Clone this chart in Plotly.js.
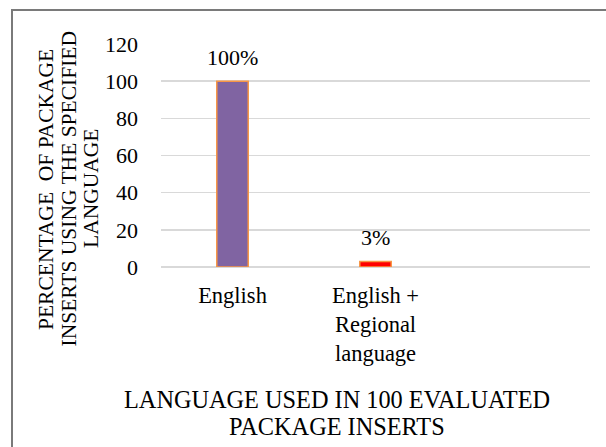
<!DOCTYPE html>
<html>
<head>
<meta charset="utf-8">
<script src="https://cdn.plot.ly/plotly-3.0.1.min.js"></script>
<style>
  html, body { margin: 0; padding: 0; background: #fff; }
  #wrap { position: relative; width: 606px; height: 447px; overflow: hidden; }
  #chart { width: 606px; height: 447px; }
  #frame { position: absolute; left: 11px; top: 9px; width: 620px; height: 470px;
           border: 2px solid #7a7a7a; pointer-events: none; box-sizing: border-box; }
</style>
</head>
<body>
<div id="wrap">
  <div id="chart"></div>
  <div id="frame"></div>
</div>
<script>
// Data
const categories = ['English', 'English +<br>Regional<br>language', ' '];
const values = [100, 3, null];
const barColors = ['#8064A2', '#FF0000', '#8064A2'];
const yTicks = [0, 20, 40, 60, 80, 100, 120];
const yTitleLines = ['PERCENTAGE  OF PACKAGE', 'INSERTS USING THE SPECIFIED', 'LANGUAGE'];
const xTitleLines = ['LANGUAGE USED IN 100 EVALUATED', 'PACKAGE INSERTS'];

const font = "'Liberation Serif', 'Times New Roman', serif";

// plot area geometry (pixels)
const M = { l: 161, r: 16, t: 44, b: 180 };
const W = 606, H = 447;
const pw = W - M.l - M.r, ph = H - M.t - M.b;
const px2paperX = px => (px - M.l) / pw;
const py2paperY = py => (H - M.b - py) / ph;

const trace = {
  type: 'bar',
  x: categories,
  y: values,
  width: 0.22,
  marker: { color: barColors, line: { color: '#F79646', width: 1.5 } },
  hoverinfo: 'none'
};

const annotations = [];
values.forEach((v, i) => {
  if (v == null) return;
  annotations.push({
    x: categories[i], y: v, xref: 'x', yref: 'y',
    text: v + '%', showarrow: false, yanchor: 'bottom', yshift: 9,
    font: { family: font, size: 22, color: '#000' }
  });
});

// y-axis title, one line per annotation (tight line spacing like the original)
const yTitleX = [46, 68.5, 91];
yTitleLines.forEach((t, i) => {
  annotations.push({
    xref: 'paper', yref: 'paper', x: px2paperX(yTitleX[i]), y: py2paperY(189),
    text: t, textangle: -90, showarrow: false, xanchor: 'center', yanchor: 'middle',
    font: { family: font, size: 21.5, color: '#000' }
  });
});

// x-axis title
const xTitleY = [399, 426];
xTitleLines.forEach((t, i) => {
  annotations.push({
    xref: 'paper', yref: 'paper', x: px2paperX(337), y: py2paperY(xTitleY[i]),
    text: t, showarrow: false, xanchor: 'center', yanchor: 'middle',
    font: { family: font, size: 24.3, color: '#000' }
  });
});

const layout = {
  width: W, height: H,
  margin: M,
  paper_bgcolor: '#fff', plot_bgcolor: '#fff',
  showlegend: false,
  font: { family: font, color: '#000' },
  xaxis: {
    type: 'category',
    range: [-0.5, 2.5],
    showgrid: false, zeroline: false, showline: false, ticks: '',
    ticklabelstandoff: 12,
    tickfont: { family: font, size: 22.5, color: '#000' }
  },
  yaxis: {
    range: [0, 120],
    tickvals: yTicks,
    ticktext: yTicks.map(String),
    showgrid: true, gridcolor: '#d9d9d9', gridwidth: 1.5,
    zeroline: true, zerolinecolor: '#d9d9d9', zerolinewidth: 1.5,
    showline: false, ticks: '',
    ticklabelstandoff: 22,
    tickfont: { family: font, size: 22, color: '#000' }
  },
  annotations: annotations
};

Plotly.newPlot('chart', [trace], layout, { displayModeBar: false, staticPlot: true });
</script>
</body>
</html>
